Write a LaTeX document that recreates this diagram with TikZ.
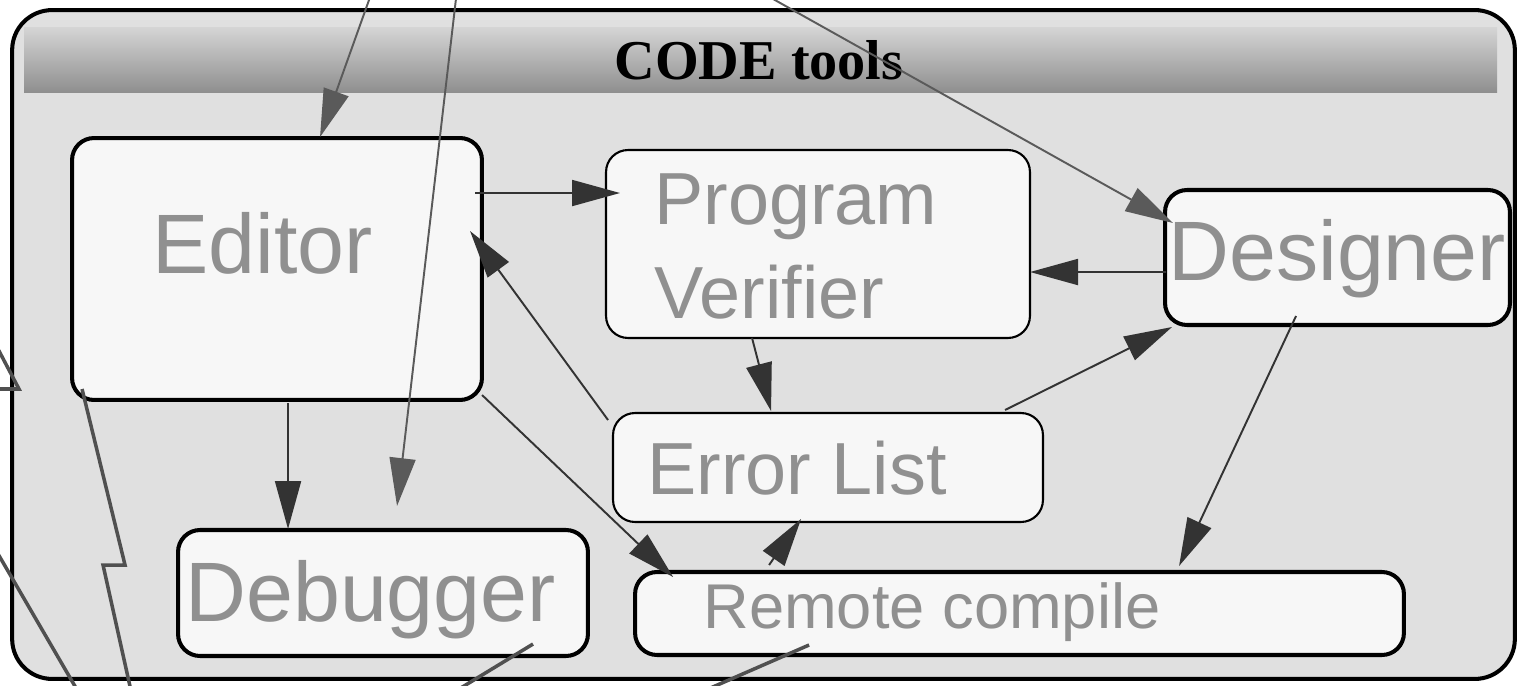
\documentclass[tikz,border=0pt]{standalone}
\usepackage{fontspec}
\setmainfont{Liberation Serif}
\setsansfont{Liberation Sans}
\usetikzlibrary{arrows.meta,calc}

\definecolor{panelgray}{HTML}{E0E0E0}
\definecolor{boxwhite}{HTML}{F7F7F7}
\definecolor{namegray}{HTML}{909090}
\definecolor{linkgray}{HTML}{333333}
\definecolor{fargray}{HTML}{5A5A5A}
\definecolor{boltgray}{HTML}{505050}
\definecolor{bandtop}{HTML}{D4D4D4}
\definecolor{bandbottom}{HTML}{8E8E8E}

\newcommand{\bigname}{\sffamily\fontsize{48}{58}\selectfont}
\newcommand{\midname}{\sffamily\fontsize{42}{53}\selectfont}
\newcommand{\smallname}{\sffamily\fontsize{36}{43}\selectfont}

\begin{document}
\begin{tikzpicture}[x=0.02cm, y=-0.02cm,
    tool/.style={draw=black, fill=boxwhite, line width=2.3pt, rounded corners=0.44cm, inner sep=0pt, outer sep=0pt},
    thintool/.style={tool, line width=1.2pt},
    toolname/.style={anchor=base west, inner sep=0pt, text=namegray},
    link/.style={draw=linkgray, line width=1.1pt, -{Triangle[length=0.96cm,width=0.52cm]}},
    farlink/.style={link, draw=fargray},
    bolt/.style={draw=boltgray, line width=2pt}]
  \useasboundingbox (0,0) rectangle (1522,686);
  \clip (0,0) rectangle (1522,686);

  \node[draw=black, fill=panelgray, line width=2.3pt, rounded corners=0.8cm, minimum width=30.06cm, minimum height=13.38cm] (panel) at (763.5,344.5) {};
  \shade[top color=bandtop, bottom color=bandbottom] (24,28) rectangle (1497,93);
  \node[anchor=base, inner sep=0pt, font=\bfseries\fontsize{32}{38}\selectfont] (title) at (759,80) {CODE tools};

  \node[tool, minimum width=8.2cm, minimum height=5.24cm] (editor) at (277,269) {};
  \node[thintool, minimum width=8.48cm, minimum height=3.76cm] (verifier) at (818,244) {};
  \node[tool, minimum width=6.9cm, minimum height=2.7cm] (designer) at (1337.5,257.5) {};
  \node[thintool, minimum width=8.6cm, minimum height=2.18cm] (errors) at (828,467.5) {};
  \node[tool, minimum width=8.2cm, minimum height=2.52cm] (debugger) at (383,593) {};
  \node[tool, minimum width=15.38cm, minimum height=1.66cm] (remote) at (1019.5,613.5) {};

  \node[toolname, font=\bigname] (editor-name) at ($(editor.north west)+(80,135)$) {Editor};
  \node[toolname, font=\midname, align=left] (verifier-name) at ($(verifier.north west)+(48,168)$) {Program\\Verifier};
  \node[toolname, font=\bigname] (designer-name) at ($(designer.north west)+(3,90)$) {Designer};
  \node[toolname, font=\midname] (errors-name) at ($(errors.north west)+(34,81)$) {Error List};
  \node[toolname, font=\bigname] (debugger-name) at ($(debugger.north west)+(7,91)$) {Debugger};
  \node[toolname, font=\smallname] (remote-name) at ($(remote.north west)+(68,56)$) {Remote compile};

  \draw[link] ($(editor.north west)+(403,55)$) -- ($(verifier.north west)+(14,43)$);
  \draw[link] ($(editor.north west)+(216,265)$) -- ($(debugger.north west)+(110,-1)$);
  \draw[link] ($(editor.north west)+(410,257)$) -- ($(remote.north west)+(38,5)$);
  \draw[link] ($(errors.north west)+(-5,7)$) -- ($(editor.north west)+(398,93)$);
  \draw[link] ($(verifier.north west)+(146,188)$) -- ($(errors.north west)+(158,-2)$);
  \draw[link] ($(designer.north west)+(1,82)$) -- ($(verifier.north west)+(424,122)$);
  \draw[link] ($(errors.north west)+(392,-3)$) -- ($(designer.north west)+(7,137)$);
  \draw[link] ($(designer.north west)+(131,126)$) -- ($(remote.north west)+(544,-6)$);
  \draw[link] ($(remote.north west)+(134,-7)$) -- ($(errors.north west)+(188,106)$);

  \coordinate (top-in1) at (372.6,-10);
  \coordinate (top-in2) at (457,-10);
  \coordinate (top-in3) at (757,-10);
  \draw[farlink] (top-in1) -- ($(editor.north west)+(248,-1)$);
  \draw[farlink] (top-in2) -- ($(debugger.north west)+(219,-24)$);
  \draw[farlink] (top-in3) -- ($(designer.north west)+(8,33)$);

  \coordinate (left-in1) at (-12,330);
  \coordinate (left-in2) at (-6,547);
  \coordinate (bottom-out2) at (83,700);
  \coordinate (bottom-out3) at (441,700);
  \coordinate (bottom-out4) at (683,700);
  \draw[bolt] (left-in1) -- ++(31,59) -- ++(-30,0);
  \draw[bolt] ($(editor.north west)+(10,251)$) -- ++(43,176) -- ++(-22,0) -- ++(30,135);
  \draw[bolt] (left-in2) -- (bottom-out2);
  \draw[bolt] ($(debugger.north west)+(355,114)$) -- (bottom-out3);
  \draw[bolt] ($(remote.north west)+(174,73)$) -- (bottom-out4);
\end{tikzpicture}
\end{document}
